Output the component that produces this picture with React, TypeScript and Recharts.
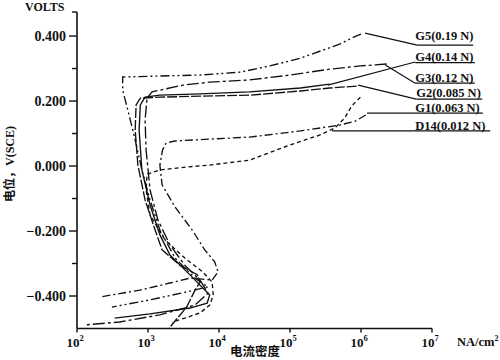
import { LineChart, Line, XAxis, YAxis, ReferenceLine, ReferenceDot } from "recharts";

// current density (NA/cm²) vs potential (V, SCE)
const G5: number[][] = [
  [1.0e6, 0.406], [8.5e5, 0.4], [5.0e5, 0.375], [1.4e5, 0.332], [5.2e4, 0.308], [2.0e4, 0.289],
  [5.4e3, 0.28], [1.5e3, 0.277], [4.4e2, 0.274], [4.4e2, 0.234], [5.2e2, 0.172], [6.6e2, 0.08],
  [8.2e2, -0.012], [1.07e3, -0.105], [1.47e3, -0.197], [2.4e3, -0.283], [4.6e3, -0.345],
  [7.0e3, -0.372], [3.9e3, -0.385], [1.07e3, -0.412], [3.1e2, -0.434],
];
const G4: number[][] = [
  [3.6e5, 0.252], [1.4e5, 0.24], [2.7e4, 0.228], [5.4e3, 0.222], [1.47e3, 0.218], [9.1e2, 0.212],
  [7.8e2, 0.188], [7.5e2, 0.111], [8.2e2, -0.012], [1.07e3, -0.12], [1.47e3, -0.212], [2.04e3, -0.274],
  [3.9e3, -0.335], [7.4e3, -0.397], [6.8e3, -0.422], [3.9e3, -0.437], [1.07e3, -0.455], [3.4e2, -0.468],
];
const G3: number[][] = [
  [2.3e6, 0.314], [9.8e5, 0.308], [3.6e5, 0.298], [1.0e5, 0.28], [2.7e4, 0.265], [7.4e3, 0.258],
  [3.1e3, 0.249], [1.74e3, 0.237], [1.14e3, 0.228], [9.7e2, 0.209], [9.1e2, 0.142], [9.4e2, 0.049],
  [1.07e3, -0.074], [1.38e3, -0.166], [2.04e3, -0.243], [3.3e3, -0.305], [5.4e3, -0.351],
  [7.0e3, -0.391], [4.6e3, -0.428], [1.47e3, -0.458], [4.0e2, -0.48], [1.3e2, -0.489],
];
const G2: number[][] = [
  [8.7e5, 0.246], [3.6e5, 0.24], [1.4e5, 0.231], [2.7e4, 0.218], [5.4e3, 0.215], [1.47e3, 0.212],
  [7.8e2, 0.209], [6.8e2, 0.188], [6.6e2, 0.111], [7.2e2, 0.003], [9.1e2, -0.105], [1.26e3, -0.197],
  [1.58e3, -0.258], [2.8e3, -0.305], [5.0e3, -0.335], [5.4e3, -0.357], [4.6e3, -0.382],
  [3.5e3, -0.434], [2.6e3, -0.468], [2.0e3, -0.498],
];
const G1: number[][] = [
  [1.17e6, 0.157], [8.3e5, 0.138], [5.0e5, 0.126], [1.4e5, 0.108], [2.7e4, 0.089], [7.4e3, 0.083],
  [2.4e3, 0.077], [1.8e3, 0.071], [1.6e3, 0.049], [1.47e3, 0.003], [1.58e3, -0.058], [2.4e3, -0.126],
  [4.2e3, -0.197], [6.3e3, -0.258], [8.7e3, -0.295], [9.7e3, -0.326], [8.0e3, -0.351],
  [3.9e3, -0.345], [2.04e3, -0.36], [7.7e2, -0.382], [2.1e2, -0.403],
];
const D14: number[][] = [
  [9.8e5, 0.212], [7.4e5, 0.185], [5.9e5, 0.148], [4.3e5, 0.117], [2.6e5, 0.095], [1.0e5, 0.065],
  [2.7e4, 0.018], [7.4e3, 0.003], [3.5e3, -0.003], [1.47e3, -0.012], [9.7e2, -0.025], [9.4e2, -0.074],
  [1.07e3, -0.151], [1.74e3, -0.228], [3.3e3, -0.283], [5.9e3, -0.326], [8.0e3, -0.357],
  [8.3e3, -0.397], [7.4e3, -0.428], [5.4e3, -0.452], [3.3e3, -0.468], [2.2e3, -0.48],
];

const SERIES = [
  { name: "G5", pts: G5, dash: "9 3 2 3 2 3" },
  { name: "G4", pts: G4, dash: undefined },
  { name: "G3", pts: G3, dash: "12 3 3 3" },
  { name: "G2", pts: G2, dash: "10 2" },
  { name: "G1", pts: G1, dash: "8 3 2 3" },
  { name: "D14", pts: D14, dash: "4 3" },
];

// legend labels: text, leader from curve end to underline start, underline end
const LABEL_TEXT = ["G5(0.19 N)", "G4(0.14 N)", "G3(0.12 N)", "G2(0.085 N)", "G1(0.063 N)", "D14(0.012 N)"];
const LABEL_AT: number[][] = [[5.8e6, 0.388], [5.8e6, 0.324], [5.8e6, 0.259], [6.0e6, 0.213], [5.8e6, 0.167], [5.8e6, 0.111]];
const LEADERS: number[][][] = [
  [[1.14e6, 0.409], [6.2e6, 0.372]],
  [[3.4e5, 0.249], [5.8e6, 0.32]],
  [[2.2e6, 0.311], [5.8e6, 0.255]],
  [[9.1e5, 0.249], [6.0e6, 0.206]],
];
const UNDERLINES: number[][][] = [
  [[6.2e6, 0.372], [3.8e7, 0.372]],
  [[5.8e6, 0.318], [4.0e7, 0.318]],
  [[5.8e6, 0.255], [4.0e7, 0.255]],
  [[6.0e6, 0.206], [5.1e7, 0.206]],
  [[1.22e6, 0.163], [5.2e7, 0.163]],
  [[3.9e5, 0.108], [6.6e7, 0.108]],
];

const X_TICKS = [1e2, 1e3, 1e4, 1e5, 1e6, 1e7];
const Y_TICKS = [-0.4, -0.3, -0.2, -0.1, 0, 0.1, 0.2, 0.3, 0.4, 0.474];
const Y_LABELS: Record<string, string> = {
  "-0.4": "−0.400", "-0.2": "−0.200", "0": "0.000", "0.2": "0.200", "0.4": "0.400",
};

const SERIF = '"Liberation Serif", "Times New Roman", serif';
const INK = "#111";

function YTick({ x, y, payload }: any) {
  const label = Y_LABELS[String(payload.value)];
  const major = label !== undefined;
  return (
    <g>
      <line x1={x - (major ? 8 : 5)} x2={x} y1={y} y2={y} stroke={INK} strokeWidth={1.4} />
      {major && (
        <text x={x - 11} y={y + 5} textAnchor="end" fontFamily={SERIF} fontWeight={700} fontSize={14} fill={INK}>
          {label}
        </text>
      )}
    </g>
  );
}

function XTick({ x, y, payload }: any) {
  const exp = Math.round(Math.log10(payload.value));
  return (
    <g>
      <line x1={x} x2={x} y1={y} y2={y + 4} stroke={INK} strokeWidth={1.4} />
      <text x={x - 2} y={y + 18} textAnchor="middle" fontFamily={SERIF} fontWeight={700} fontSize={13} fill={INK}>
        <tspan>10</tspan>
        <tspan dy={-6} fontSize={8.5}>{exp}</tspan>
      </text>
    </g>
  );
}

export default function App() {
  return (
    <div style={{ position: "absolute", left: 0, top: 0, width: 500, height: 360, background: "#fff" }}>
      <LineChart width={500} height={360} margin={{ top: 12, right: 68, bottom: 0, left: 17 }}>
        <XAxis dataKey="x" type="number" scale="log" domain={[100, 1e7]} ticks={X_TICKS} allowDataOverflow
          height={31.5} tickSize={0} tickMargin={0} tick={<XTick />} axisLine={{ stroke: INK, strokeWidth: 1.6 }} />
        <YAxis dataKey="v" type="number" domain={[-0.5, 0.474]} ticks={Y_TICKS} allowDataOverflow
          width={60} tickSize={0} tickMargin={0} tick={<YTick />} axisLine={{ stroke: INK, strokeWidth: 1.6 }} />
        {SERIES.map((s) => (
          <Line key={s.name} data={s.pts.map(([x, v]) => ({ x, v }))} dataKey="v" type="linear" stroke={INK}
            strokeWidth={1.35} strokeDasharray={s.dash} dot={false} isAnimationActive={false} />
        ))}
        {LEADERS.concat(UNDERLINES).map((seg, i) => (
          <ReferenceLine key={"l" + i} segment={seg.map(([x, y]) => ({ x, y }))} stroke={INK} strokeWidth={1.2}
            ifOverflow="visible" />
        ))}
        {LABEL_TEXT.map((t, i) => (
          <ReferenceDot key={t} x={LABEL_AT[i][0]} y={LABEL_AT[i][1]} ifOverflow="visible"
            shape={(p: any) => (
              <text x={p.cx} y={p.cy} fontFamily={SERIF} fontWeight={700} fontSize={12.5} fill={INK}>{t}</text>
            )} />
        ))}
      </LineChart>
      <svg width={500} height={360} style={{ position: "absolute", left: 0, top: 0, pointerEvents: "none" }}>
        <text x={25} y={11} fontFamily={SERIF} fontWeight={700} fontSize={12} fill={INK}>VOLTS</text>
        <text x={457} y={346} fontFamily={SERIF} fontWeight={700} fontSize={12.5} fill={INK}>
          NA/cm<tspan dy={-5} fontSize={8}>2</tspan>
        </text>
        <text x={255} y={356} textAnchor="middle" fontFamily={'"Noto Sans CJK SC", sans-serif'} fontWeight={700}
          fontSize={12.5} fill={INK}>电流密度</text>
        <text transform="translate(14,164) rotate(-90)" textAnchor="middle" fontWeight={700} fontSize={12} fill={INK}>
          <tspan fontFamily={'"Noto Sans CJK SC", sans-serif'}>电位，</tspan>
          <tspan fontFamily={SERIF}>V(SCE)</tspan>
        </text>
      </svg>
    </div>
  );
}
